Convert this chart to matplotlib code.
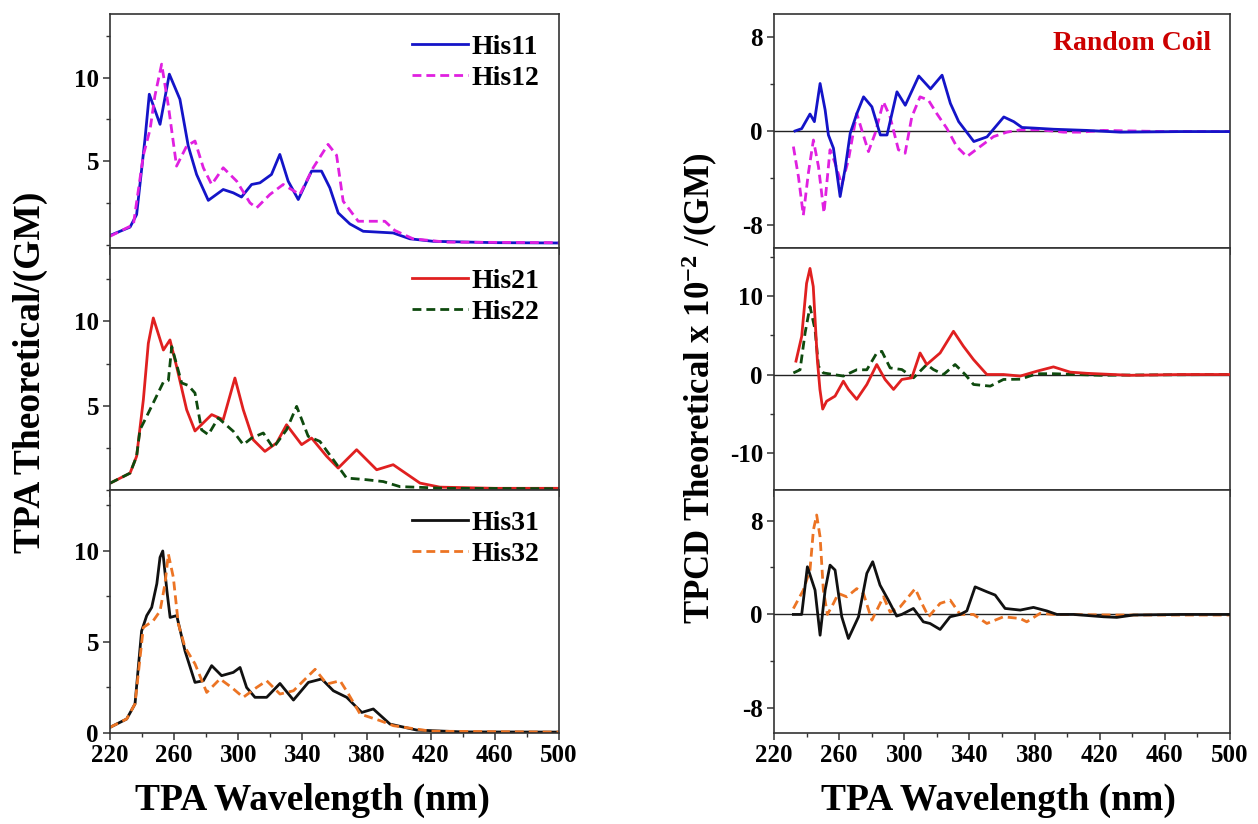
import matplotlib
matplotlib.use("Agg")
import matplotlib.pyplot as plt
from matplotlib.ticker import MultipleLocator

plt.rcParams['font.family'] = ['Liberation Serif', 'DejaVu Serif']
plt.rcParams['font.weight'] = 'bold'
plt.rcParams['axes.unicode_minus'] = False
plt.rcParams['mathtext.fontset'] = 'custom'
plt.rcParams['mathtext.rm'] = 'Liberation Serif:bold'
plt.rcParams['mathtext.bf'] = 'Liberation Serif:bold'
plt.rcParams['mathtext.it'] = 'Liberation Serif:bold'

# ---------------- TPA (left) ----------------
his11_x = [220, 232.5, 236.6, 241.8, 244.5, 251.2, 257, 263.6, 268.8, 274, 281.3, 290.6, 296.9, 302, 308.3,
           313.5, 320.7, 325.9, 331.1, 337.4, 345.7, 351.9, 357.1, 362.3, 369.6, 377.9, 396.6, 407, 421.6, 460, 500]
his11_y = [0.55, 1.05, 1.8, 6.3, 9.0, 7.2, 10.2, 8.7, 5.9, 4.2, 2.65, 3.3, 3.1, 2.85, 3.6,
           3.7, 4.2, 5.4, 3.8, 2.7, 4.4, 4.4, 3.4, 1.9, 1.24, 0.8, 0.7, 0.35, 0.2, 0.12, 0.1]

his12_x = [220, 234.6, 240.8, 245, 248, 252.2, 256.4, 261.5, 267.8, 273, 278.2, 283.4, 290.6, 299, 307.3,
           311.4, 319.7, 328, 338.4, 346.7, 356, 361.3, 365.4, 374.8, 384.1, 391.4, 397.6, 409, 430, 500]
his12_y = [0.5, 1.2, 5.35, 6.9, 8.9, 10.8, 8.3, 4.7, 5.9, 6.2, 4.6, 3.6, 4.6, 3.8, 2.5,
           2.2, 3.0, 3.6, 3.0, 4.6, 6.0, 5.35, 2.6, 1.4, 1.4, 1.4, 0.85, 0.35, 0.15, 0.12]

his21_x = [220, 232.5, 236.6, 240.8, 243.9, 247, 253.3, 257.4, 261.6, 267.8, 273, 283.4, 290.6, 297.9, 303.1,
           309.3, 316.6, 323.9, 330.1, 339.5, 345.7, 355.1, 362.3, 373.8, 386.3, 396.6, 413.3, 425.7, 460, 500]
his21_y = [0.4, 1.0, 2.0, 5.35, 8.7, 10.2, 8.3, 8.9, 7.3, 4.76, 3.5, 4.47, 4.17, 6.64, 4.76,
           2.98, 2.29, 2.79, 3.87, 2.69, 3.08, 2.0, 1.3, 2.39, 1.2, 1.5, 0.41, 0.17, 0.1, 0.1]

his22_x = [220, 232.5, 236.6, 238.7, 242.9, 253.3, 256.4, 258.5, 264.7, 268.8, 273, 277.1, 281.3, 287.5, 296.9,
           303.1, 308.3, 315.6, 321.8, 330.1, 336.4, 343.6, 350.9, 359.2, 367.5, 380, 390.4, 400.8, 430, 500]
his22_y = [0.4, 1.0, 2.0, 3.57, 4.37, 6.4, 6.5, 8.5, 6.35, 6.2, 5.75, 3.57, 3.28, 4.27, 3.48,
           2.69, 3.08, 3.38, 2.49, 3.57, 4.96, 3.18, 2.88, 1.8, 0.71, 0.61, 0.5, 0.2, 0.1, 0.08]

his31_x = [220, 230.4, 235.6, 239.7, 242.9, 246, 249.2, 251.2, 252.9, 255.5, 257.5, 261.6, 266.8, 273, 278.2,
           283.4, 289.6, 296.9, 301.1, 305.2, 310.4, 317.7, 326, 334.4, 343.7, 352, 359.3, 367.6, 377, 384.2,
           394.6, 411.3, 440, 500]
his31_y = [0.31, 0.77, 1.6, 5.6, 6.45, 6.9, 8.2, 9.65, 10.0, 7.8, 6.35, 6.45, 4.5, 2.78, 2.87,
           3.7, 3.15, 3.33, 3.6, 2.5, 1.96, 1.96, 2.72, 1.81, 2.78, 2.97, 2.32, 1.96, 1.13, 1.32,
           0.49, 0.16, 0.06, 0.05]

his32_x = [220, 230.4, 235.6, 240.8, 247, 251.2, 254.3, 256.4, 259.5, 262.6, 266.8, 273, 280.3, 288.6, 295.9,
           303.1, 311.4, 317.7, 326, 334.4, 342.7, 347.9, 355.2, 363.5, 368.7, 376, 388.4, 396.8, 420, 500]
his32_y = [0.31, 0.77, 1.6, 5.8, 6.17, 6.7, 8.2, 9.83, 8.55, 6.0, 4.7, 3.8, 2.23, 2.97, 2.5,
           1.96, 2.5, 2.87, 2.14, 2.32, 3.05, 3.5, 2.69, 2.87, 2.14, 1.04, 0.68, 0.4, 0.1, 0.05]

# ---------------- TPCD (right) ----------------
cd11_x = [232.9, 237, 242.1, 244.8, 248.3, 251.4, 253.4, 256.5, 260.6, 263.7, 266.8, 270.9, 275, 280.1, 285.3,
          289.4, 295.5, 300.6, 308.9, 316.1, 323.2, 328.3, 333.4, 342.7, 350.8, 361.1, 367.2, 372.3, 379.5, 391.8,
          412.3, 432.7, 470, 500]
cd11_y = [0, 0.2, 1.45, 0.8, 4.06, 1.8, -0.34, -1.47, -5.6, -3.2, -0.2, 1.5, 2.92, 2.07, -0.34,
          -0.34, 3.35, 2.2, 4.7, 3.6, 4.77, 2.36, 0.8, -0.9, -0.5, 1.2, 0.8, 0.3, 0.25, 0.15,
          0.05, -0.1, -0.05, -0.05]

cd12_x = [231.9, 235, 238, 241.1, 244.2, 247.3, 250.7, 254.4, 257.5, 261.6, 265.7, 270.8, 273.9, 278, 282.1,
          287.2, 291.3, 296.4, 300.5, 304.6, 309.7, 314.8, 319.9, 326.1, 332.2, 338.4, 346.6, 354.8, 363, 371.2,
          383.5, 397.8, 408, 422.4, 460, 500]
cd12_y = [-1.33, -3.9, -7.2, -3.6, -0.77, -3.04, -7.0, -1.6, -2.75, -4.6, -2.47, 1.5, 0.08, -1.76, -0.2,
          2.5, 1.2, -1.6, -1.9, 1.2, 2.92, 2.64, 1.5, 0.23, -1.33, -2.19, -1.33, -0.48, -0.1, 0.1,
          0.1, -0.1, -0.1, 0.05, -0.05, -0.05]

cd21_x = [233.5, 237, 240, 242.1, 244.1, 246.6, 248.2, 249.9, 252.3, 257.5, 262.6, 265.7, 270.8, 277, 283.1,
          288.2, 293.4, 298.5, 304.6, 309.7, 313.8, 322, 330.2, 336.3, 342.5, 350.7, 360.9, 371.2, 381.4, 391.6,
          401.9, 412.1, 438.7, 470, 500]
cd21_y = [1.7, 4.85, 11.6, 13.5, 11.2, 1.9, -1.9, -4.4, -3.4, -2.75, -0.85, -1.9, -3.16, -1.27, 1.27,
          -0.63, -1.9, -0.63, -0.42, 2.74, 1.27, 2.74, 5.5, 3.6, 1.9, 0, 0, -0.2, 0.42, 0.97,
          0.3, 0.15, -0.1, 0, 0]

cd22_x = [231.9, 236, 239.1, 242.1, 245.2, 247.3, 250.3, 256.5, 262.6, 270.8, 277, 283.1, 286.2, 291.3, 298.5,
          305.7, 313.8, 317.9, 324.1, 331.2, 337.4, 342.5, 352.8, 360.9, 371.2, 381.4, 391.6, 420, 450, 500]
cd22_y = [0.2, 0.6, 5.3, 8.65, 5.7, 1.05, 0.2, 0, -0.2, 0.6, 0.6, 2.74, 2.95, 0.84, 0.63,
          -0.42, 1.27, 0.63, 0, 1.27, 0, -1.27, -1.48, -0.63, -0.6, 0.1, 0.1, -0.1, -0.05, 0]

cd31_x = [231.9, 237, 240.5, 245.2, 248.3, 251.4, 254.4, 257.5, 261.6, 265.7, 271.9, 277, 280.6, 285.1, 290.2,
          295.3, 298.4, 305.6, 311.7, 315.8, 322, 328.1, 334.3, 338.4, 343.5, 350.7, 355.8, 361.9, 371.2, 379.3,
          387.5, 393.7, 404, 422.4, 430.5, 440.8, 470, 500]
cd31_y = [0, 0, 4.06, 2.07, -1.77, 2.07, 4.2, 3.78, -0.2, -2.05, -0.2, 3.5, 4.49, 2.5, 1.22,
          -0.14, 0, 0.51, -0.63, -0.77, -1.28, -0.2, 0, 0.3, 2.35, 1.93, 1.65, 0.51, 0.37, 0.6,
          0.3, 0, 0, -0.2, -0.25, -0.05, 0, 0]

cd32_x = [231.9, 238, 242.1, 244.2, 246.2, 248.3, 250.3, 252.8, 256.5, 259.5, 264.7, 270.8, 274.9, 280.1, 287.2,
          291.3, 297.5, 306.7, 310.8, 314.9, 322, 328.2, 334.3, 342.5, 350.7, 360.9, 371.2, 375.2, 383.5, 391.7,
          430, 500]
cd32_y = [0.5, 2.07, 3.78, 7.2, 8.47, 6.6, 2.07, 0, 0.94, 1.79, 1.5, 2.2, 1.79, -0.49, 1.5,
          0.2, 0.65, 2.2, 0.94, -0.2, 0.94, 1.22, 0, 0, -0.77, -0.2, -0.35, -0.63, 0.1, 0,
          -0.05, -0.05]

x_ticks = [220, 260, 300, 340, 380, 420, 460, 500]

W, H = 1258, 824
fig = plt.figure(figsize=(W / 100, H / 100), dpi=100)


def axrect(x0, y0, x1, y1):
    return [x0 / W, 1 - y1 / H, (x1 - x0) / W, (y1 - y0) / H]


left_rows = [(14, 248), (248, 490), (490, 733)]
LX0, LX1 = 110, 559
RX0, RX1 = 774, 1230

tick_fs = 18
leg_fs = 20
lw = 2.0
dash = (0, (3.2, 1.8))

spine_col = '#333333'


def style(ax, show_x):
    for s in ax.spines.values():
        s.set_color(spine_col)
        s.set_linewidth(1.2)
    ax.set_xlim(220, 500)
    ax.set_xticks(x_ticks)
    ax.xaxis.set_minor_locator(MultipleLocator(20))
    ax.tick_params(axis='both', which='major', direction='out', length=5, width=1.1,
                   color=spine_col, labelsize=tick_fs, pad=3)
    ax.tick_params(axis='both', which='minor', direction='out', length=3, width=1.0, color=spine_col)
    if not show_x:
        ax.tick_params(axis='x', labelbottom=False)
    for lab in ax.get_xticklabels() + ax.get_yticklabels():
        lab.set_fontweight('bold')


# Left panels
left_data = [
    (his11_x, his11_y, 'His11', '#1414c8', his12_x, his12_y, 'His12', '#e020e0'),
    (his21_x, his21_y, 'His21', '#e02020', his22_x, his22_y, 'His22', '#0e4a0e'),
    (his31_x, his31_y, 'His31', '#111111', his32_x, his32_y, 'His32', '#ec7424'),
]
left_ylims = [(-0.2, 13.8), (0, 14.35), (0, 13.35)]
left_yticks = [[5, 10], [5, 10], [0, 5, 10]]

for i, ((y0, y1), d) in enumerate(zip(left_rows, left_data)):
    ax = fig.add_axes(axrect(LX0, y0, LX1, y1))
    xa, ya, la, ca, xb, yb, lb, cb = d
    ax.plot(xa, ya, color=ca, lw=lw, ls='-', label=la)
    ax.plot(xb, yb, color=cb, lw=lw, ls=dash, label=lb)
    ax.set_ylim(*left_ylims[i])
    ax.set_yticks(left_yticks[i])
    ax.yaxis.set_minor_locator(MultipleLocator(2.5))
    style(ax, i == 2)
    ax.legend(loc='upper right', bbox_to_anchor=(1.0, 0.995), frameon=False,
              prop={'family': 'Liberation Serif', 'weight': 'bold', 'size': leg_fs},
              handlelength=2.0, handletextpad=0.15, labelspacing=0.2, borderaxespad=0.3)

# Right panels
right_data = [
    (cd11_x, cd11_y, '#1414c8', cd12_x, cd12_y, '#e020e0'),
    (cd21_x, cd21_y, '#e02020', cd22_x, cd22_y, '#0e4a0e'),
    (cd31_x, cd31_y, '#111111', cd32_x, cd32_y, '#ec7424'),
]
right_ylims = [(-10, 10), (-14.7, 16.1), (-10.1, 10.6)]
right_yticks = [[-8, 0, 8], [-10, 0, 10], [-8, 0, 8]]
right_minor = [4, 5, 4]

for i, ((y0, y1), d) in enumerate(zip(left_rows, right_data)):
    ax = fig.add_axes(axrect(RX0, y0, RX1, y1))
    xa, ya, ca, xb, yb, cb = d
    ax.axhline(0, color='#222222', lw=1.0, zorder=1)
    ax.plot(xa, ya, color=ca, lw=lw, ls='-', zorder=3)
    ax.plot(xb, yb, color=cb, lw=lw, ls=dash, zorder=2)
    ax.set_ylim(*right_ylims[i])
    ax.set_yticks(right_yticks[i])
    ax.yaxis.set_minor_locator(MultipleLocator(right_minor[i]))
    style(ax, i == 2)
    if i == 0:
        ax.text(0.958, 0.875, 'Random Coil', transform=ax.transAxes, ha='right', va='center',
                color='#cc0000', fontsize=20, fontweight='bold', family='Liberation Serif')

# Axis labels
label_fs = 27
fig.text(312 / W, 1 - 800 / H, 'TPA Wavelength (nm)', ha='center', va='center',
         fontsize=label_fs, fontweight='bold')
fig.text(998 / W, 1 - 800 / H, 'TPA Wavelength (nm)', ha='center', va='center',
         fontsize=label_fs, fontweight='bold')
fig.text(30 / W, 1 - 372 / H, 'TPA Theoretical/(GM)', ha='center', va='center', rotation=90,
         fontsize=label_fs, fontweight='bold')
fig.text(700 / W, 1 - 388 / H, r'TPCD Theoretical x 10$^{\mathbf{-2}}$ /(GM)', ha='center', va='center',
         rotation=90, fontsize=25, fontweight='bold')

fig.savefig('out.png', dpi=100)
